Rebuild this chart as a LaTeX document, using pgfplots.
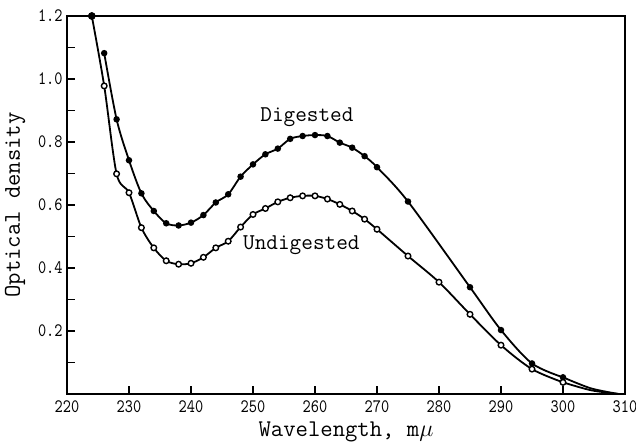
\documentclass[border=0pt]{standalone}
\usepackage{pgfplots}
\pgfplotsset{compat=1.18}
\begin{document}
\begin{tikzpicture}
\begin{axis}[
  scale only axis,
  width=279pt, height=189pt,
  xmin=220, xmax=310, ymin=0, ymax=1.2,
  clip=false,
  axis line style={line width=1pt},
  xtick={220,230,...,310},
  ytick={0.2,0.4,...,1.2},
  minor ytick={0.1,0.3,...,1.1},
  tick align=inside,
  xtick pos=bottom, ytick pos=left,
  major tick length=4pt, minor tick length=4pt,
  tick style={line width=0.8pt, black},
  /pgf/number format/assume math mode=true,
  yticklabel style={/pgf/number format/fixed, /pgf/number format/precision=1, /pgf/number format/fixed zerofill, xshift=-2.5pt},
  xticklabel style={/pgf/number format/1000 sep={}, yshift=-3pt},
  ticklabel style={font=\ttfamily\fontsize{9.5}{10}\selectfont, inner sep=0pt, xscale=0.82},
  xlabel={\ttfamily\fontsize{12}{14}\selectfont Wavelength, m$\mu$},
  ylabel={\ttfamily\fontsize{12}{14}\selectfont Optical density},
  xlabel style={at={(axis description cs:0.5,-0.1)}, anchor=center},
  ylabel style={at={(axis description cs:-0.093,0.5)}, anchor=center},
]
\addplot[black, line width=0.9pt, smooth, mark=*, mark size=1.15pt, mark options={fill=black}]
coordinates {
(226,1.082)(228,0.872)(230,0.742)(232,0.637)(234,0.581)(236,0.542)(238,0.535)
(240,0.544)(242,0.568)(244,0.608)(246,0.634)(248,0.690)(250,0.729)(252,0.761)
(254,0.779)(256,0.810)(258,0.819)(260,0.822)(262,0.819)(264,0.798)(266,0.782)
(268,0.755)(270,0.720)(275,0.611)(285,0.339)(290,0.203)(295,0.097)(300,0.053)
};
\addplot[black, line width=0.9pt, smooth] coordinates {(300,0.053)(304.5,0.018)(309,0)};
\addplot[black, line width=0.9pt, smooth] coordinates {(300,0.037)(304.5,0.012)(309,0)};
\addplot[black, line width=0.9pt, smooth, mark=*, mark size=1.4pt, mark options={fill=white, line width=0.7pt}]
coordinates {
(224,1.2)(226,0.978)(228,0.699)(230,0.639)(232,0.528)(234,0.464)(236,0.423)
(238,0.412)(240,0.415)(242,0.434)(244,0.464)(246,0.485)(248,0.530)(250,0.570)
(252,0.589)(254,0.610)(256,0.623)(258,0.629)(260,0.629)(262,0.619)(264,0.602)
(266,0.581)(268,0.555)(270,0.523)(275,0.438)(280,0.355)(285,0.253)(290,0.155)
(295,0.079)(300,0.037)
};
\addplot[only marks, mark=*, mark size=1.7pt, black] coordinates {(224,1.2)};
\node[font=\ttfamily\fontsize{11.3}{13}\selectfont] at (axis cs:258.7,0.879) {Digested};
\node[font=\ttfamily\fontsize{11.3}{13}\selectfont] at (axis cs:257.8,0.473) {Undigested};
\end{axis}
\pgfresetboundingbox
\path[use as bounding box] ([xshift=-33.5pt,yshift=-25.5pt]current axis.south west) rectangle ([xshift=5.5pt,yshift=8pt]current axis.north east);
\end{tikzpicture}
\end{document}
